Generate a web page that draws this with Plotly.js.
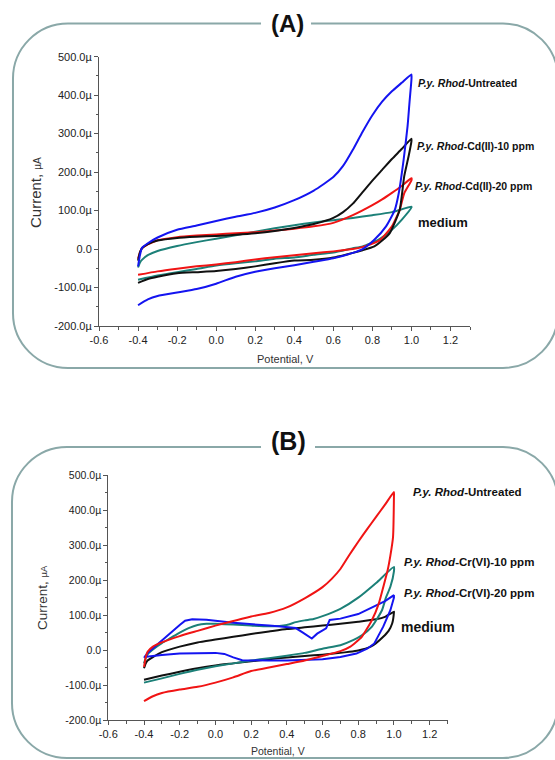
<!DOCTYPE html>
<html><head><meta charset="utf-8">
<script src="https://cdn.plot.ly/plotly-3.0.1.min.js"></script>
<style>html,body{margin:0;padding:0;background:#fff}#chart{width:555px;height:760px}</style>
</head><body><div id="chart"></div>
<script>
// ---------- Panel A : Cd(II) ----------
const potA_untreated = [-0.4,-0.39,-0.38,-0.35,-0.3,-0.2,-0.1,0.0,0.1,0.2,0.3,0.4,0.5,0.6,0.65,0.7,0.75,0.8,0.85,0.9,0.95,1.0,
  1.0,0.99,0.98,0.96,0.935,0.915,0.87,0.81,0.75,0.7,0.6,0.5,0.4,0.3,0.2,0.1,0.0,-0.1,-0.2,-0.3,-0.35,-0.4];
const curA_untreated = [-45,-15,3,15,30,50,61,73,84,94,108,127,152,187,216,258,305,348,383,410,432,454,
  440,380,318,232,145,102,59,24,0,-10,-24,-33,-42,-50,-59,-72,-90,-104,-113,-122,-131,-146];

const potA_cd10 = [-0.4,-0.39,-0.38,-0.35,-0.3,-0.2,-0.1,0.0,0.1,0.2,0.3,0.4,0.5,0.6,0.65,0.7,0.75,0.8,0.85,0.9,0.95,1.0,
  1.0,0.985,0.963,0.94,0.89,0.85,0.81,0.75,0.7,0.6,0.5,0.4,0.3,0.2,0.1,0.0,-0.1,-0.2,-0.3,-0.35,-0.4];
const curA_cd10 = [-30,-8,2,13,22,29,32,34,37,41,47,55,65,81,96,118,148,178,206,234,260,287,
  280,240,189,102,42,22,7,-3,-10,-22,-28,-30,-37,-45,-52,-57,-60,-63,-72,-78,-88];

const potA_cd20 = [-0.4,-0.39,-0.38,-0.35,-0.3,-0.2,-0.1,0.0,0.1,0.2,0.3,0.4,0.5,0.6,0.7,0.8,0.85,0.9,0.95,1.0,
  1.0,0.985,0.963,0.94,0.9,0.84,0.76,0.7,0.6,0.5,0.4,0.3,0.2,0.1,0.0,-0.1,-0.2,-0.3,-0.4];
const curA_cd20 = [-25,-8,2,12,23,31,35,38,41,44,48,53,59,68,88,114,129,146,164,184,
  178,165,145,102,59,24,7,0,-6,-11,-16,-21,-27,-34,-40,-45,-51,-58,-67];

const potA_medium = [-0.4,-0.39,-0.38,-0.35,-0.3,-0.2,-0.1,0.0,0.1,0.2,0.3,0.4,0.5,0.6,0.7,0.8,0.9,1.0,
  1.0,0.95,0.9,0.83,0.75,0.7,0.6,0.5,0.4,0.3,0.2,0.1,0.0,-0.1,-0.2,-0.3,-0.4];
const curA_medium = [-48,-35,-28,-16,-5,8,18,27,36,45,54,62,69,75,81,88,96,110,
  108,76,50,24,7,2,-9,-15,-22,-25,-32,-37,-43,-52,-60,-69,-80];

// ---------- Panel B : Cr(VI) ----------
const potB_untreated = [-0.4,-0.39,-0.38,-0.35,-0.3,-0.2,-0.1,0.0,0.1,0.2,0.3,0.4,0.5,0.6,0.65,0.7,0.75,0.8,0.85,0.9,0.95,1.0,
  1.0,0.995,0.98,0.965,0.94,0.915,0.877,0.82,0.756,0.7,0.6,0.5,0.4,0.3,0.2,0.1,0.0,-0.1,-0.2,-0.3,-0.35,-0.4];
const curB_untreated = [-48,-20,-5,10,22,40,55,70,83,96,106,122,148,180,203,232,272,310,346,381,416,452,
  440,324,270,229,180,133,86,38,10,-3,-17,-30,-40,-50,-60,-78,-93,-105,-113,-123,-132,-146];

const potB_cr10 = [-0.4,-0.39,-0.38,-0.35,-0.3,-0.25,-0.2,-0.15,-0.1,-0.05,0.0,0.1,0.2,0.3,0.4,0.45,0.5,0.55,0.6,0.7,0.8,0.9,1.0,
  1.0,0.98,0.955,0.933,0.877,0.82,0.774,0.7,0.6,0.5,0.4,0.3,0.2,0.1,0.0,-0.1,-0.2,-0.3,-0.4];
const curB_cr10 = [-38,-22,-12,2,20,35,50,63,72,75,75,73,70,68,72,80,85,89,97,118,150,192,238,
  225,181,150,114,67,42,29,14,4,-8,-16,-23,-30,-38,-46,-56,-68,-81,-93];

const potB_cr20 = [-0.4,-0.39,-0.38,-0.35,-0.3,-0.25,-0.2,-0.17,-0.13,-0.05,0.0,0.05,0.1,0.2,0.3,0.35,0.4,0.45,0.49,0.54,0.57,0.6,0.62,0.64,0.7,0.8,0.85,0.9,0.95,1.0,
  1.0,0.98,0.94,0.89,0.85,0.79,0.7,0.6,0.5,0.4,0.3,0.2,0.15,0.1,0.05,0.0,-0.1,-0.2,-0.3,-0.35,-0.4];
const curB_cr20 = [-22,-15,-8,5,28,50,72,84,88,87,85,81,78,73,70,68,66,63,50,33,47,57,62,86,90,103,115,128,140,157,
  150,114,67,19,4,-10,-20,-26,-29,-30,-30,-30,-29,-21,-11,-8,-8,-10,-14,-17,-20];

const potB_medium = [-0.4,-0.39,-0.38,-0.35,-0.3,-0.2,-0.1,0.0,0.1,0.2,0.3,0.4,0.5,0.6,0.7,0.8,0.9,0.95,1.0,
  1.0,0.99,0.97,0.94,0.9,0.87,0.8,0.75,0.7,0.6,0.5,0.4,0.3,0.2,0.1,0.0,-0.1,-0.2,-0.3,-0.4];
const curB_medium = [-52,-38,-30,-20,-6,10,22,30,38,46,53,60,65,70,75,81,88,95,110,
  108,76,55,38,20,10,-1,-5,-8,-13,-17,-21,-26,-32,-38,-44,-52,-62,-73,-85];

// ---------- ticks & labels ----------
const yTickVals = [-200,-100,0,100,200,300,400,500];
const yTickText = ['-200.0µ','-100.0µ','0.0','100.0µ','200.0µ','300.0µ','400.0µ','500.0µ'];
const xTickVals = [-0.6,-0.4,-0.2,0.0,0.2,0.4,0.6,0.8,1.0,1.2];
const xTickText = ['-0.6','-0.4','-0.2','0.0','0.2','0.4','0.6','0.8','1.0','1.2'];
const labelsA = ['<i>P.y. Rhod</i>-Untreated','<i>P.y. Rhod</i>-Cd(II)-10 ppm','<i>P.y. Rhod</i>-Cd(II)-20 ppm','medium'];
const labelsB = ['<i>P.y. Rhod</i>-Untreated','<i>P.y. Rhod</i>-Cr(VI)-10 ppm','<i>P.y. Rhod</i>-Cr(VI)-20 ppm','medium'];

// ---------- layout helpers ----------
const W = 555, H = 760;
const FONT = 'Liberation Sans, Arial, sans-serif';
const px = x => x / W, py = y => 1 - y / H;
const BLUE = '#1414f0', BLACK = '#111111', RED = '#f01414', TEAL = '#1c8078';

function tr(x, y, color, xa, ya, shape) {
  return {x, y, xaxis: xa, yaxis: ya, type: 'scatter', mode: 'lines',
    line: {color, width: 2, shape: shape || 'spline', smoothing: 0.5}, hoverinfo: 'skip', showlegend: false};
}
const traces = [
  tr(potA_medium, curA_medium, TEAL, 'x', 'y'),
  tr(potA_cd20, curA_cd20, RED, 'x', 'y'),
  tr(potA_cd10, curA_cd10, BLACK, 'x', 'y'),
  tr(potA_untreated, curA_untreated, BLUE, 'x', 'y'),
  tr(potB_medium, curB_medium, BLACK, 'x2', 'y2'),
  tr(potB_cr10, curB_cr10, TEAL, 'x2', 'y2'),
  tr(potB_cr20, curB_cr20, BLUE, 'x2', 'y2', 'linear'),
  tr(potB_untreated, curB_untreated, RED, 'x2', 'y2')
];

function xax(domain, anchor, fs) {
  return {domain, anchor, range: [-0.6, 1.3], showgrid: false, zeroline: false, showline: true,
    linecolor: '#555', linewidth: 1, ticks: 'outside', ticklen: 4, tickcolor: '#555',
    tickmode: 'array', tickvals: xTickVals, ticktext: xTickText,
    tickfont: {family: FONT, size: fs, color: '#222'},
    minor: {tickmode: 'linear', tick0: -0.6, dtick: 0.1, ticks: 'outside', ticklen: 2.5, tickcolor: '#555', showgrid: false},
    fixedrange: true};
}
function yax(domain, anchor, fs) {
  return {domain, anchor, range: [-200, 500], showgrid: false, zeroline: false, showline: true,
    linecolor: '#555', linewidth: 1, ticks: 'outside', ticklen: 4, tickcolor: '#555',
    tickmode: 'array', tickvals: yTickVals, ticktext: yTickText,
    tickfont: {family: FONT, size: fs, color: '#222'},
    minor: {tickmode: 'linear', tick0: -200, dtick: 50, ticks: 'outside', ticklen: 2.5, tickcolor: '#555', showgrid: false},
    fixedrange: true};
}

function panelPath(l, t, r, b, rad, gapL, gapR) {
  const k = 0.5523 * rad;
  const P = (x, y) => px(x).toFixed(4) + ',' + py(y).toFixed(4);
  return 'M' + P(gapR, t) + ' L' + P(r - rad, t) +
    ' C' + P(r - rad + k, t) + ' ' + P(r, t + rad - k) + ' ' + P(r, t + rad) +
    ' L' + P(r, b - rad) +
    ' C' + P(r, b - rad + k) + ' ' + P(r - rad + k, b) + ' ' + P(r - rad, b) +
    ' L' + P(l + rad, b) +
    ' C' + P(l + rad - k, b) + ' ' + P(l, b - rad + k) + ' ' + P(l, b - rad) +
    ' L' + P(l, t + rad) +
    ' C' + P(l, t + rad - k) + ' ' + P(l + rad - k, t) + ' ' + P(l + rad, t) +
    ' L' + P(gapL, t);
}
const frameStyle = {type: 'path', xref: 'paper', yref: 'paper', line: {color: '#8aa8a8', width: 2}, layer: 'below'};
const shapes = [
  Object.assign({path: panelPath(13, 23.5, 558, 368, 55, 261, 311)}, frameStyle),
  Object.assign({path: panelPath(12, 447, 558, 758, 55, 261, 315)}, frameStyle)
];

function ann(text, x, y, size, opts) {
  return Object.assign({text, x: px(x), y: py(y), xref: 'paper', yref: 'paper', showarrow: false,
    xanchor: 'left', yanchor: 'middle', font: {family: FONT, size, color: '#111'}}, opts || {});
}
const annotations = [
  ann('<b>(A)</b>', 287, 24, 24, {xanchor: 'center'}),
  ann('<b>(B)</b>', 288, 441, 25, {xanchor: 'center'}),
  ann('<b>' + labelsA[0] + '</b>', 416, 83, 10.5),
  ann('<b>' + labelsA[1] + '</b>', 415, 146, 10.5),
  ann('<b>' + labelsA[2] + '</b>', 413, 186, 10.5),
  ann('<b>' + labelsA[3] + '</b>', 416, 222, 13),
  ann('<b>' + labelsB[0] + '</b>', 411, 492, 11.5),
  ann('<b>' + labelsB[1] + '</b>', 402, 562, 11.5),
  ann('<b>' + labelsB[2] + '</b>', 402, 593, 11.5),
  ann('<b>' + labelsB[3] + '</b>', 399, 627, 14),
  ann('Potential, V', 285, 359, 11, {xanchor: 'center', font: {family: FONT, size: 11, color: '#333'}}),
  ann('Potential, V', 278, 751, 10.5, {xanchor: 'center', font: {family: FONT, size: 10.5, color: '#333'}}),
  ann('Current, <span style="font-size:10px">µA</span>', 35, 193, 15, {xanchor: 'center', textangle: -90, font: {family: FONT, size: 15, color: '#333'}}),
  ann('Current, <span style="font-size:9.5px">µA</span>', 42, 598, 13.5, {xanchor: 'center', textangle: -90, font: {family: FONT, size: 13.5, color: '#333'}})
];

const layout = {
  width: W, height: H, margin: {l: 0, r: 0, t: 0, b: 0},
  paper_bgcolor: '#ffffff', plot_bgcolor: 'rgba(0,0,0,0)', showlegend: false,
  xaxis: xax([px(99), px(470)], 'y', 11),
  yaxis: yax([py(326), py(56.7)], 'x', 11),
  xaxis2: xax([px(108.3), px(447.5)], 'y2', 11),
  yaxis2: yax([py(720), py(475.3)], 'x2', 10.5),
  shapes, annotations
};
Plotly.newPlot('chart', traces, layout, {displayModeBar: false, staticPlot: true});
</script></body></html>
